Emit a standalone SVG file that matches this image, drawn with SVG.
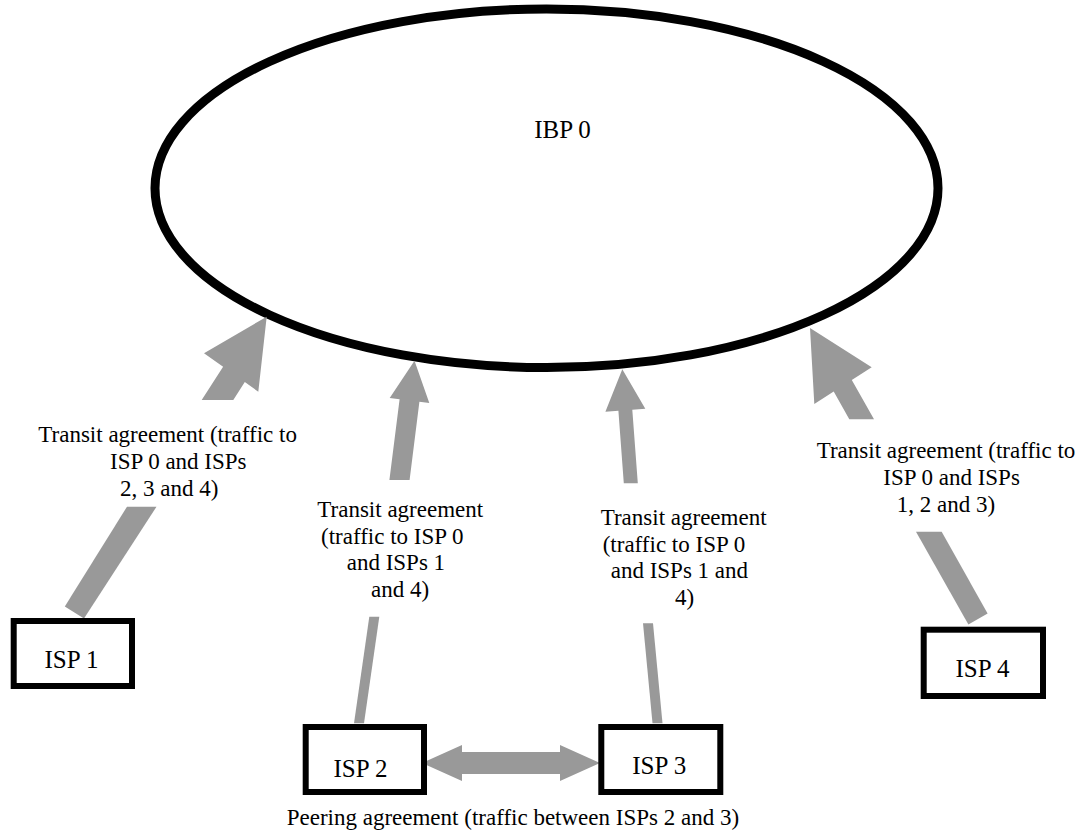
<svg xmlns="http://www.w3.org/2000/svg" width="1078" height="836" viewBox="0 0 1078 836">
  <style>
    .bg { fill: #ffffff; }
    .box { fill: #ffffff; stroke: #000000; stroke-width: 6; }
    .cloud { fill: #ffffff; stroke: #000000; stroke-width: 9; }
    .arrow { fill: #999999; stroke: none; }
    .lbl { font-family: "Liberation Serif", "Times New Roman", serif; font-size: 23px; fill: #000000; }
    .node { font-family: "Liberation Serif", "Times New Roman", serif; font-size: 25px; fill: #000000; text-anchor: middle; }
  </style>
  <rect class="bg" x="0" y="0" width="1078" height="836"/>

  <g id="ibp0">
    <ellipse class="cloud" cx="546.5" cy="188.25" rx="391.5" ry="179.25"/>
    <text class="node" x="562.5" y="138" font-size="26">IBP 0</text>
  </g>

  <g id="connectors">
    <!-- ISP 1 to IBP 0 -->
    <polygon class="arrow" points="266.7,316.7 258.3,391.7 244.8,382.1 233.3,400 201.7,400 223.1,366.8 204,353.3"/>
    <polygon class="arrow" points="127,506.7 156.5,506.7 84,618.4 64.8,606.6"/>
    <!-- ISP 2 to IBP 0 -->
    <polygon class="arrow" points="414.5,360.7 429.3,402.9 419.4,401.7 409.6,480 389.4,480 399.6,399.2 389.7,397.9"/>
    <polygon class="arrow" points="369.3,616.7 379.3,616.7 364,723.3 354,723.3"/>
    <!-- ISP 3 to IBP 0 -->
    <polygon class="arrow" points="622.3,369.3 645.3,408.7 632.3,409.7 637.8,483.3 623.8,483.3 618.4,410.7 605.4,411.7"/>
    <polygon class="arrow" points="643,623.3 653,623.3 662.5,723.3 652.5,723.3"/>
    <!-- ISP 4 to IBP 0 -->
    <polygon class="arrow" points="810,328 871.7,367.3 851.8,380 874,419.3 849.3,419.3 833.7,391.6 814.3,404"/>
    <polygon class="arrow" points="916,531.7 941.7,531.7 987.6,613.6 968.4,624.4"/>
    <!-- ISP 2 <-> ISP 3 peering -->
    <polygon class="arrow" points="422,763 462,745 462,752 560,752 560,745 600,763 560,781 560,774 462,774 462,781"/>
  </g>

  <g id="labels">
    <g id="label-isp1">
      <text class="lbl" x="38.3" y="442">Transit agreement (traffic to</text>
      <text class="lbl" x="110" y="469">ISP 0 and ISPs</text>
      <text class="lbl" x="120" y="496">2, 3 and 4)</text>
    </g>
    <g id="label-isp2">
      <text class="lbl" x="317.3" y="517">Transit agreement</text>
      <text class="lbl" x="321" y="543.5">(traffic to ISP 0</text>
      <text class="lbl" x="346.7" y="570">and ISPs 1</text>
      <text class="lbl" x="371" y="596.5">and 4)</text>
    </g>
    <g id="label-isp3">
      <text class="lbl" x="600.7" y="525">Transit agreement</text>
      <text class="lbl" x="602.7" y="551.5">(traffic to ISP 0</text>
      <text class="lbl" x="610.7" y="578">and ISPs 1 and</text>
      <text class="lbl" x="675" y="604.5">4)</text>
    </g>
    <g id="label-isp4">
      <text class="lbl" x="816.7" y="458.3">Transit agreement (traffic to</text>
      <text class="lbl" x="883.3" y="485">ISP 0 and ISPs</text>
      <text class="lbl" x="896.7" y="511.7">1, 2 and 3)</text>
    </g>
    <g id="label-peering">
      <text class="lbl" x="286.7" y="825">Peering agreement (traffic between ISPs 2 and 3)</text>
    </g>
  </g>

  <g id="isp1">
    <rect class="box" x="13.7" y="621" width="118.3" height="65"/>
    <text class="node" x="71.5" y="668">ISP 1</text>
  </g>
  <g id="isp2">
    <rect class="box" x="305.7" y="727" width="118.3" height="65"/>
    <text class="node" x="360.5" y="776.5">ISP 2</text>
  </g>
  <g id="isp3">
    <rect class="box" x="601.3" y="727" width="119" height="65"/>
    <text class="node" x="659.2" y="774">ISP 3</text>
  </g>
  <g id="isp4">
    <rect class="box" x="923.7" y="629.7" width="119.3" height="66.3"/>
    <text class="node" x="982.5" y="677">ISP 4</text>
  </g>
</svg>
